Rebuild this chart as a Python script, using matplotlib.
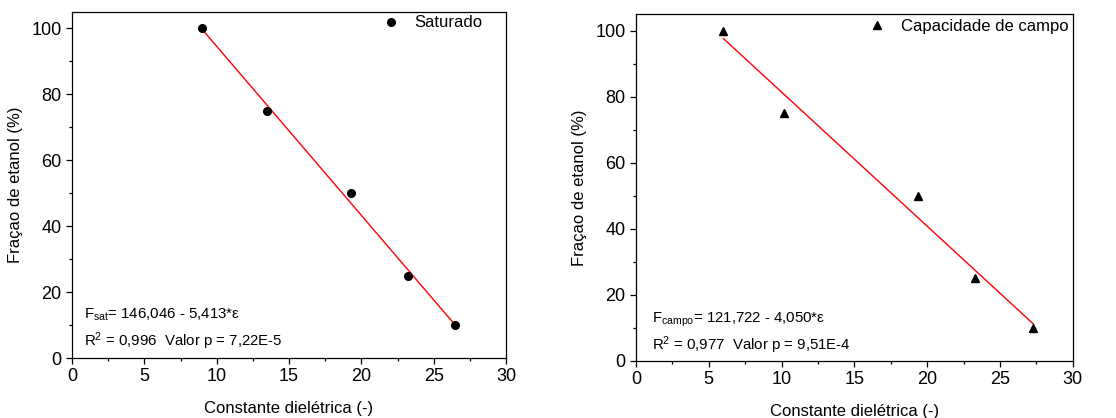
import numpy as np
import matplotlib
matplotlib.use("Agg")
import matplotlib.pyplot as plt
from matplotlib.ticker import MultipleLocator

plt.rcParams['font.family'] = ['Liberation Sans', 'DejaVu Sans']
plt.rcParams['mathtext.fontset'] = 'custom'
plt.rcParams['mathtext.rm'] = 'Liberation Sans'
plt.rcParams['mathtext.it'] = 'Liberation Sans:italic'

# Data
eps_sat = [9.0, 13.5, 19.3, 23.2, 26.5]
frac_sat = [100, 75, 50, 25, 10]
eps_campo = [6.0, 10.2, 19.4, 23.3, 27.3]
frac_campo = [100, 75, 50, 25, 10]

eq_sat = [r'F$_{\mathrm{sat}}$= 146,046 - 5,413*ε',
          r'R$^{2}$ = 0,996  Valor p = 7,22E-5']
eq_campo = [r'F$_{\mathrm{campo}}$= 121,722 - 4,050*ε',
            r'R$^{2}$ = 0,977  Valor p = 9,51E-4']

fig = plt.figure(figsize=(11.16, 4.18), dpi=100)
ax1 = fig.add_axes([0.0645, 0.1435, 0.389, 0.8278])
ax2 = fig.add_axes([0.5699, 0.1364, 0.3913, 0.8301])


def draw(ax, x, y, marker, label, eq, eq_pos, leg_anchor):
    ax.plot(x, y, linestyle='none', marker=marker, color='black',
            markersize=5.5, label=label, zorder=3)
    k, b = np.polyfit(x, y, 1)
    xs = np.array([min(x), max(x)])
    ax.plot(xs, k * xs + b, color='red', linewidth=1.0, zorder=2)

    ax.set_xlim(0, 30)
    ax.set_ylim(0, 105)
    ax.xaxis.set_major_locator(MultipleLocator(5))
    ax.xaxis.set_minor_locator(MultipleLocator(2.5))
    ax.yaxis.set_major_locator(MultipleLocator(20))
    ax.yaxis.set_minor_locator(MultipleLocator(10))
    ax.tick_params(which='both', direction='out', top=False, right=False,
                   labelsize=13, width=0.9)
    ax.tick_params(which='major', length=4.5, pad=3)
    ax.tick_params(which='minor', length=2.5)
    for s in ax.spines.values():
        s.set_linewidth(0.9)
    ax.set_xlabel('Constante dielétrica (-)', fontsize=12, labelpad=11)
    ax.set_ylabel('Fraçao de etanol (%)', fontsize=12, labelpad=6)

    ex, ey0, ey1 = eq_pos
    ax.text(ex, ey0, eq[0], fontsize=10.8, va='baseline')
    ax.text(ex, ey1, eq[1], fontsize=10.8, va='baseline')

    ax.legend(loc='upper right', bbox_to_anchor=leg_anchor, frameon=False,
              fontsize=12, handletextpad=0.9, borderaxespad=0,
              handlelength=1.0, borderpad=0)


draw(ax1, eps_sat, frac_sat, 'o', 'Saturado', eq_sat, (0.8, 12.1, 3.6),
     (0.945, 0.99))
draw(ax2, eps_campo, frac_campo, '^', 'Capacidade de campo', eq_campo,
     (1.1, 11.5, 3.3), (0.99, 0.985))

fig.savefig('out.png', dpi=100)
